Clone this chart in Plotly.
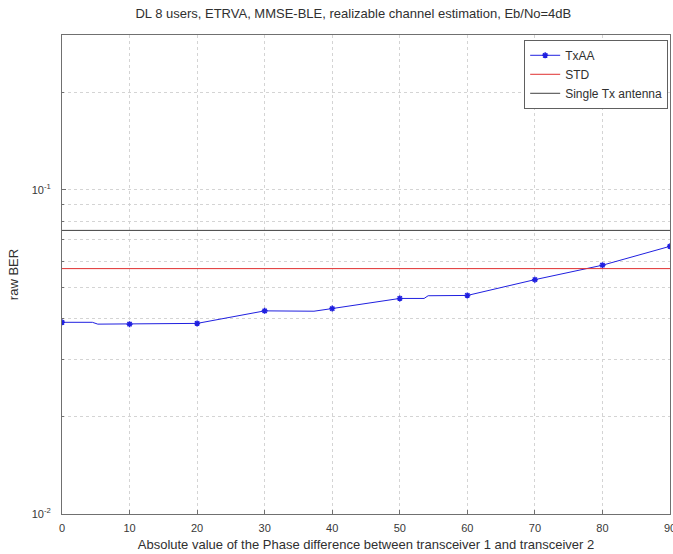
import plotly.graph_objects as go

# Data
phase_marks = [0, 10, 20, 30, 40, 50, 60, 70, 80, 90]
txaa_marks = [0.0390, 0.0385, 0.0387, 0.0423, 0.0430, 0.0462, 0.0472, 0.0528, 0.0585, 0.0669]
# line path incl. intermediate kinks visible in the curve
phase_line = [0, 4.5, 5.3, 10, 20, 30, 37.3, 40, 50, 53.6, 54.2, 60, 70, 80, 90]
txaa_line = [0.0390, 0.0390, 0.0385, 0.0385, 0.0387, 0.0423, 0.0422, 0.0430, 0.0462,
             0.0462, 0.0471, 0.0472, 0.0528, 0.0585, 0.0669]
std_ber = 0.0571
single_tx_ber = 0.0749
x_ticks = [0, 10, 20, 30, 40, 50, 60, 70, 80, 90]
y_major = [0.01, 0.1]
y_major_text = ["10<sup>-2</sup>", "10<sup>-1</sup>"]
y_minor = [0.02, 0.03, 0.04, 0.05, 0.06, 0.07, 0.08, 0.09, 0.2, 0.3]

title = "DL 8 users, ETRVA, MMSE-BLE, realizable channel estimation, Eb/No=4dB"
xlabel = "Absolute value of the Phase difference between transceiver 1 and transceiver 2"
ylabel = "raw BER"

fig = go.Figure()
fig.add_trace(go.Scatter(x=phase_line, y=txaa_line, mode="lines",
                         line=dict(color="#2020e0", width=1),
                         showlegend=False, hoverinfo="skip"))
fig.add_trace(go.Scatter(x=phase_marks, y=txaa_marks, mode="markers", name="TxAA",
                         marker=dict(symbol="asterisk-open", size=5, color="#2020e0",
                                     line=dict(color="#2020e0", width=1.5)),
                         showlegend=False))
# legend entry for TxAA (line + marker)
fig.add_trace(go.Scatter(x=[None], y=[None], mode="lines+markers", name="TxAA",
                         line=dict(color="#2020e0", width=1),
                         marker=dict(symbol="asterisk-open", size=5,
                                     line=dict(color="#2020e0", width=1.5))))
fig.add_trace(go.Scatter(x=[x_ticks[0], x_ticks[-1]], y=[std_ber, std_ber], mode="lines",
                         name="STD", line=dict(color="#e03030", width=1)))
fig.add_trace(go.Scatter(x=[x_ticks[0], x_ticks[-1]], y=[single_tx_ber, single_tx_ber],
                         mode="lines", name="Single Tx antenna",
                         line=dict(color="#404040", width=1)))

axis_common = dict(showline=True, linecolor="#707070", linewidth=1, mirror=True,
                   ticks="inside", ticklen=4, tickcolor="#707070",
                   showgrid=True, gridcolor="#d4d4d4", griddash="dot", gridwidth=1,
                   zeroline=False, tickfont=dict(size=11, color="#383838"),
                   ticklabeloverflow="allow", automargin=False)

fig.update_xaxes(range=[0, 90], tickvals=x_ticks, ticklabelstandoff=4,
                 title=dict(text=xlabel, font=dict(size=13, color="#303030"), standoff=6),
                 **axis_common)
fig.update_yaxes(type="log", range=[-2, -0.523], tickvals=y_major, ticktext=y_major_text,
                 ticklabelstandoff=8,
                 title=dict(text=ylabel, font=dict(size=13, color="#303030"), standoff=10),
                 minor=dict(tickvals=y_minor, showgrid=True, gridcolor="#d4d4d4",
                            griddash="dot", ticks="inside", ticklen=2, tickcolor="#707070"),
                 **axis_common)

fig.update_layout(
    width=673, height=554,
    margin=dict(l=62, r=3, t=35, b=40),
    paper_bgcolor="white", plot_bgcolor="white",
    font=dict(family="Liberation Sans, Arial, sans-serif", size=11, color="#303030"),
    title=dict(text=title, x=0.525, xanchor="center", y=0.975, yanchor="middle",
               font=dict(size=13, color="#303030")),
    legend=dict(x=0.997, y=0.99, xanchor="right", yanchor="top",
                bgcolor="white", bordercolor="#606060", borderwidth=1,
                font=dict(size=12, color="#303030"), tracegroupgap=0,
                itemwidth=30),
)

fig.write_html("out.html", config={"displayModeBar": False},
               post_script="document.body.style.margin='0';document.body.style.overflow='hidden';")
